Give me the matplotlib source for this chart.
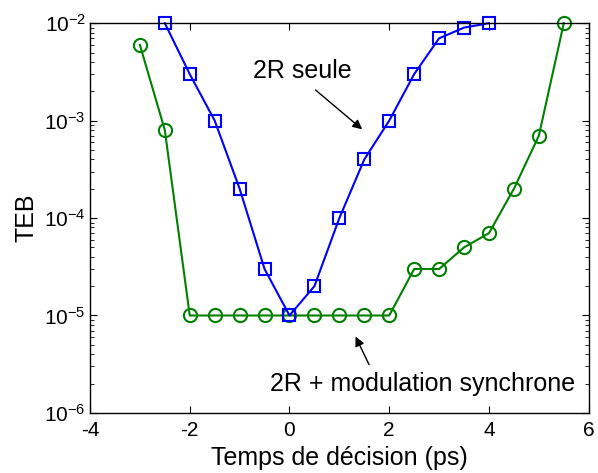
import matplotlib
matplotlib.use("Agg")
import matplotlib.pyplot as plt

# 2R seule
x_2r = [-2.5, -2, -1.5, -1, -0.5, 0, 0.5, 1, 1.5, 2, 2.5, 3, 3.5, 4]
teb_2r = [1e-2, 3e-3, 1e-3, 2e-4, 3e-5, 1e-5, 2e-5, 1e-4, 4e-4, 1e-3, 3e-3, 7e-3, 9e-3, 1e-2]

# 2R + modulation synchrone
x_mod = [-3, -2.5, -2, -1.5, -1, -0.5, 0, 0.5, 1, 1.5, 2, 2.5, 3, 3.5, 4, 4.5, 5, 5.5]
teb_mod = [6e-3, 8e-4, 1e-5, 1e-5, 1e-5, 1e-5, 1e-5, 1e-5, 1e-5, 1e-5, 1e-5,
           3e-5, 3e-5, 5e-5, 7e-5, 2e-4, 7e-4, 1e-2]

plt.rcParams['font.family'] = ['Liberation Sans', 'DejaVu Sans']
plt.rcParams['axes.unicode_minus'] = False
plt.rcParams['mathtext.fontset'] = 'custom'
plt.rcParams['mathtext.rm'] = 'Liberation Sans'
plt.rcParams['mathtext.it'] = 'Liberation Sans:italic'

fig = plt.figure(figsize=(5.98, 4.73), dpi=100)
ax = fig.add_axes([0.1505, 0.127, 0.834, 0.824])

ax.plot(x_mod, teb_mod, '-o', color=(0, 0.5, 0), lw=1.5, ms=9.5,
        mfc='none', mew=1.5, clip_on=False)
ax.plot(x_2r, teb_2r, '-s', color=(0, 0, 1), lw=1.5, ms=8.5,
        mfc='none', mew=1.5, clip_on=False)

ax.set_yscale('log')
ax.set_xlim(-4, 6)
ax.set_ylim(1e-6, 1e-2)
ax.set_xticks([-4, -2, 0, 2, 4, 6])
ax.tick_params(which='both', direction='in', top=True, right=True, labelsize=15)
ax.tick_params(which='major', length=5)
ax.tick_params(which='minor', length=3)
ax.tick_params(axis='x', pad=6)
ax.tick_params(axis='y', pad=3)
for s in ax.spines.values():
    s.set_linewidth(1.0)
ax.set_xlabel('Temps de décision (ps)', fontsize=18, labelpad=4)
ax.set_ylabel('TEB', fontsize=18, labelpad=4)

ax.text(0.26, 3.2e-3, '2R seule', fontsize=18, ha='center', va='center')
ax.annotate('', xy=(1.5, 7.8e-4), xytext=(0.48, 2.15e-3),
            arrowprops=dict(arrowstyle='-|>', color='k', lw=1, mutation_scale=14))
ax.text(2.66, 2.0e-6, '2R + modulation synchrone', fontsize=18, ha='center', va='center')
ax.annotate('', xy=(1.3, 6.45e-6), xytext=(1.62, 2.95e-6),
            arrowprops=dict(arrowstyle='-|>', color='k', lw=1, mutation_scale=14))

fig.savefig('out.png', dpi=100)
plt.close(fig)
